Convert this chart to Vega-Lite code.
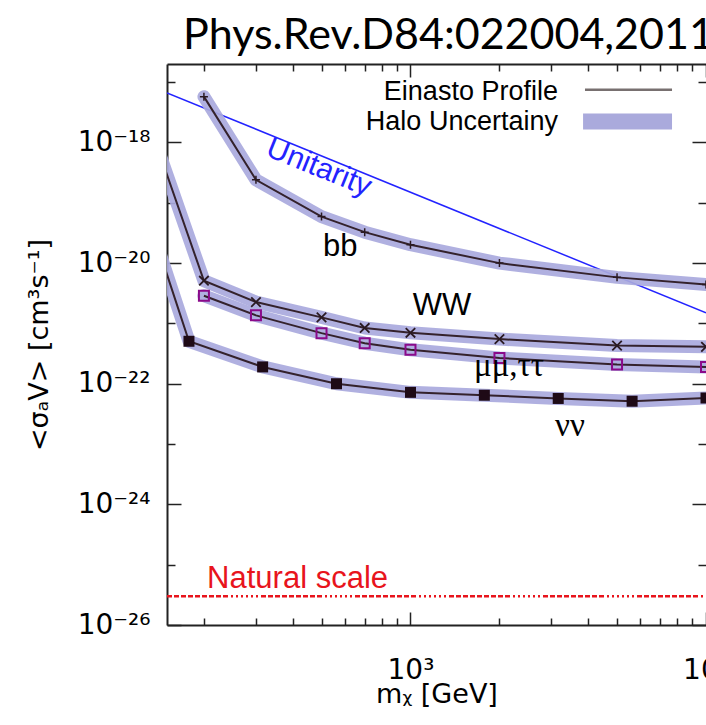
{
  "$schema": "https://vega.github.io/schema/vega-lite/v6.json",
  "width": 539,
  "height": 561,
  "autosize": "none",
  "padding": {"left": 167, "top": 64, "right": 0, "bottom": 100},
  "background": "white",
  "config": {
    "view": {"stroke": null},
    "axis": {
      "grid": false,
      "labelFont": "DejaVu Sans",
      "labelFontSize": 28,
      "labelColor": "black",
      "labelOverlap": false,
      "labelFlush": false,
      "tickColor": "#222222",
      "tickWidth": 1.5,
      "domainColor": "#222222",
      "domainWidth": 2,
      "titleFont": "DejaVu Sans",
      "titleFontSize": 27,
      "titleFontWeight": "normal",
      "titleColor": "black"
    }
  },
  "title": {
    "text": "Phys.Rev.D84:022004,2011",
    "anchor": "start",
    "frame": "group",
    "dx": 16,
    "offset": 5,
    "font": "Lato",
    "fontSize": 43,
    "fontWeight": "normal",
    "color": "black"
  },
  "datasets": {
    "series": [
      {"ch": "bb", "m": 200, "sv": 5.75e-18},
      {"ch": "bb", "m": 300, "sv": 2.4e-19},
      {"ch": "bb", "m": 500, "sv": 5.9e-20},
      {"ch": "bb", "m": 700, "sv": 3.26e-20},
      {"ch": "bb", "m": 1000, "sv": 2.02e-20},
      {"ch": "bb", "m": 2000, "sv": 1.0e-20},
      {"ch": "bb", "m": 5000, "sv": 5.8e-21},
      {"ch": "bb", "m": 10000, "sv": 4.4e-21},
      {"ch": "WW", "m": 100, "sv": 8.7e-17},
      {"ch": "WW", "m": 200, "sv": 5.1e-21},
      {"ch": "WW", "m": 300, "sv": 2.26e-21},
      {"ch": "WW", "m": 500, "sv": 1.26e-21},
      {"ch": "WW", "m": 700, "sv": 8.4e-22},
      {"ch": "WW", "m": 1000, "sv": 7.0e-22},
      {"ch": "WW", "m": 2000, "sv": 5.5e-22},
      {"ch": "WW", "m": 5000, "sv": 4.3e-22},
      {"ch": "WW", "m": 10000, "sv": 4.1e-22},
      {"ch": "mumu", "m": 200, "sv": 2.88e-21},
      {"ch": "mumu", "m": 300, "sv": 1.36e-21},
      {"ch": "mumu", "m": 500, "sv": 6.9e-22},
      {"ch": "mumu", "m": 700, "sv": 4.7e-22},
      {"ch": "mumu", "m": 1000, "sv": 3.65e-22},
      {"ch": "mumu", "m": 2000, "sv": 2.67e-22},
      {"ch": "mumu", "m": 5000, "sv": 2.08e-22},
      {"ch": "mumu", "m": 10000, "sv": 1.9e-22},
      {"ch": "nunu", "m": 100, "sv": 2.7e-18},
      {"ch": "nunu", "m": 178, "sv": 5.06e-22},
      {"ch": "nunu", "m": 316, "sv": 1.9e-22},
      {"ch": "nunu", "m": 562, "sv": 1.0e-22},
      {"ch": "nunu", "m": 1000, "sv": 7.2e-23},
      {"ch": "nunu", "m": 1778, "sv": 6.45e-23},
      {"ch": "nunu", "m": 3162, "sv": 5.7e-23},
      {"ch": "nunu", "m": 5623, "sv": 5.13e-23},
      {"ch": "nunu", "m": 10000, "sv": 5.8e-23}
    ],
    "unitarity": [
      {"m": 150, "sv": 6.65e-18},
      {"m": 10000, "sv": 1.5e-21}
    ],
    "natural": [
      {"m": 150, "sv": 3e-26},
      {"m": 10000, "sv": 3e-26}
    ],
    "sansLabels": [
      {"label": "bb", "m": 578, "sv": 1.29e-20},
      {"label": "WW", "m": 1278, "sv": 1.36e-21}
    ],
    "serifLabels": [
      {"label": "μμ,ττ", "m": 2155, "sv": 1.32e-22},
      {"label": "νν", "m": 3466, "sv": 1.35e-23}
    ],
    "unitarityLabel": [
      {"label": "Unitarity", "m": 490, "sv": 3.84e-19}
    ],
    "naturalLabel": [
      {"label": "Natural scale", "m": 205, "sv": 4.11e-26}
    ],
    "legendText": [
      {"label": "Einasto Profile", "m": 3155, "sv": 5.13e-18},
      {"label": "Halo Uncertainy", "m": 3155, "sv": 1.64e-18}
    ],
    "legendLine": [
      {"m": 3895, "sv": 7.5e-18},
      {"m": 7674, "sv": 7.5e-18}
    ],
    "legendBand": [
      {"m": 3837, "sv": 2.22e-18},
      {"m": 7674, "sv": 2.22e-18}
    ]
  },
  "encoding": {
    "x": {"field": "m", "type": "quantitative", "scale": {"type": "log", "domain": [150, 10000], "nice": false}, "axis": null},
    "y": {"field": "sv", "type": "quantitative", "scale": {"type": "log", "domain": [1e-26, 2e-17], "nice": false}, "axis": null}
  },
  "layer": [
    {
      "data": {"name": "unitarity"},
      "mark": {"type": "line", "stroke": "#2323ff", "strokeWidth": 1.5, "clip": true},
      "encoding": {}
    },
    {
      "data": {"name": "natural"},
      "mark": {"type": "line", "stroke": "#e8141c", "strokeWidth": 2.5, "clip": true,
        "strokeDash": [5, 2, 5, 2, 5, 2, 5, 2, 5, 2, 5, 2, 5, 2, 5, 2, 5, 3, 2, 3, 2, 3, 2, 3, 2, 3, 2, 3, 2, 3]},
      "encoding": {}
    },
    {
      "data": {"name": "series"},
      "mark": {"type": "line", "stroke": "#a9a9dd", "strokeWidth": 13, "opacity": 0.92, "strokeCap": "round", "strokeJoin": "round", "clip": true},
      "encoding": {"detail": {"field": "ch"}}
    },
    {
      "data": {"name": "series"},
      "mark": {"type": "line", "stroke": "#34222c", "strokeWidth": 2, "clip": true},
      "encoding": {"detail": {"field": "ch"}}
    },
    {
      "data": {"name": "series"},
      "transform": [{"filter": "datum.ch == 'bb'"}],
      "mark": {"type": "point", "shape": "M-1,0L1,0M0,-1L0,1", "size": 64, "filled": false, "stroke": "#2a1a22", "strokeWidth": 1.5, "opacity": 1, "clip": true}
    },
    {
      "data": {"name": "series"},
      "transform": [{"filter": "datum.ch == 'WW'"}],
      "mark": {"type": "point", "shape": "M-1,-1L1,1M-1,1L1,-1", "size": 90, "filled": false, "stroke": "#2a1a22", "strokeWidth": 1.8, "opacity": 1, "clip": true}
    },
    {
      "data": {"name": "series"},
      "transform": [{"filter": "datum.ch == 'mumu'"}],
      "mark": {"type": "point", "shape": "square", "size": 100, "filled": false, "stroke": "#8a0a8a", "strokeWidth": 2, "opacity": 1, "clip": true}
    },
    {
      "data": {"name": "series"},
      "transform": [{"filter": "datum.ch == 'nunu'"}],
      "mark": {"type": "point", "shape": "square", "size": 121, "filled": true, "color": "#1e0a16", "opacity": 1, "clip": true}
    },
    {
      "data": {"name": "sansLabels"},
      "mark": {"type": "text", "font": "Liberation Sans", "fontSize": 31, "color": "black", "align": "center", "baseline": "alphabetic"},
      "encoding": {"text": {"field": "label"}}
    },
    {
      "data": {"name": "serifLabels"},
      "mark": {"type": "text", "font": "Liberation Serif", "fontSize": 33, "color": "black", "align": "center", "baseline": "alphabetic"},
      "encoding": {"text": {"field": "label"}}
    },
    {
      "data": {"name": "unitarityLabel"},
      "mark": {"type": "text", "font": "Liberation Sans", "fontSize": 30, "color": "#2323ff", "align": "center", "baseline": "middle", "angle": 22},
      "encoding": {"text": {"field": "label"}}
    },
    {
      "data": {"name": "naturalLabel"},
      "mark": {"type": "text", "font": "Liberation Sans", "fontSize": 31, "color": "#e8141c", "align": "left", "baseline": "alphabetic"},
      "encoding": {"text": {"field": "label"}}
    },
    {
      "data": {"name": "legendText"},
      "mark": {"type": "text", "font": "Liberation Sans", "fontSize": 27, "color": "black", "align": "right", "baseline": "alphabetic"},
      "encoding": {"text": {"field": "label"}}
    },
    {
      "data": {"name": "legendLine"},
      "mark": {"type": "line", "stroke": "#787070", "strokeWidth": 2.5},
      "encoding": {}
    },
    {
      "data": {"name": "legendBand"},
      "mark": {"type": "line", "stroke": "#aaaadc", "strokeWidth": 16, "strokeCap": "butt"},
      "encoding": {}
    },
    {
      "data": {"name": "unitarity"},
      "mark": {"type": "point", "opacity": 0},
      "encoding": {
        "x": {"field": "m", "type": "quantitative", "scale": {"type": "log", "domain": [150, 10000], "nice": false},
          "axis": {"orient": "bottom", "values": [1000, 10000], "ticks": false, "domain": true,
            "labelExpr": "datum.value < 5000 ? '10³' : '10⁴'", "labelBaseline": "alphabetic", "labelPadding": 53,
            "title": "mᵪ [GeV]", "titleBaseline": "alphabetic", "titlePadding": 18}},
        "y": {"field": "sv", "type": "quantitative", "scale": {"type": "log", "domain": [1e-26, 2e-17], "nice": false},
          "axis": {"orient": "left", "values": [1e-26, 1e-24, 1e-22, 1e-20, 1e-18], "ticks": false, "domain": true,
            "labelExpr": "datum.value < 1e-25 ? '10⁻²⁶' : datum.value < 1e-23 ? '10⁻²⁴' : datum.value < 1e-21 ? '10⁻²²' : datum.value < 1e-19 ? '10⁻²⁰' : '10⁻¹⁸'",
            "labelBaseline": "middle", "labelPadding": 17,
            "title": "<σₐV> [cm³s⁻¹]", "titlePadding": 24}}
      }
    },
    {
      "data": {"name": "unitarity"},
      "mark": {"type": "point", "opacity": 0},
      "encoding": {
        "x": {"field": "m", "type": "quantitative", "scale": {"type": "log", "domain": [150, 10000], "nice": false},
          "axis": {"orient": "bottom", "values": [1000, 10000], "labels": false, "domain": false, "ticks": true, "tickSize": -13, "title": null}},
        "y": {"field": "sv", "type": "quantitative", "scale": {"type": "log", "domain": [1e-26, 2e-17], "nice": false},
          "axis": {"orient": "left", "values": [1e-26, 1e-24, 1e-22, 1e-20, 1e-18], "labels": false, "domain": false, "ticks": true, "tickSize": -14, "title": null}}
      }
    },
    {
      "data": {"name": "unitarity"},
      "mark": {"type": "point", "opacity": 0},
      "encoding": {
        "x": {"field": "m", "type": "quantitative", "scale": {"type": "log", "domain": [150, 10000], "nice": false},
          "axis": {"orient": "bottom", "values": [200, 300, 400, 500, 600, 700, 800, 900, 2000, 3000, 4000, 5000, 6000, 7000, 8000, 9000], "labels": false, "domain": false, "ticks": true, "tickSize": -7, "title": null}},
        "y": {"field": "sv", "type": "quantitative", "scale": {"type": "log", "domain": [1e-26, 2e-17], "nice": false},
          "axis": {"orient": "left", "values": [1e-25, 1e-23, 1e-21, 1e-19, 1e-17], "labels": false, "domain": false, "ticks": true, "tickSize": -8, "title": null}}
      }
    },
    {
      "data": {"name": "unitarity"},
      "mark": {"type": "point", "opacity": 0},
      "encoding": {
        "x": {"field": "m", "type": "quantitative", "scale": {"type": "log", "domain": [150, 10000], "nice": false},
          "axis": {"orient": "top", "values": [1000, 10000], "labels": false, "domain": true, "ticks": true, "tickSize": -13, "title": null}},
        "y": {"field": "sv", "type": "quantitative", "scale": {"type": "log", "domain": [1e-26, 2e-17], "nice": false},
          "axis": {"orient": "right", "values": [1e-26, 1e-24, 1e-22, 1e-20, 1e-18], "labels": false, "domain": false, "ticks": true, "tickSize": -14, "title": null}}
      }
    },
    {
      "data": {"name": "unitarity"},
      "mark": {"type": "point", "opacity": 0},
      "encoding": {
        "x": {"field": "m", "type": "quantitative", "scale": {"type": "log", "domain": [150, 10000], "nice": false},
          "axis": {"orient": "top", "values": [200, 300, 400, 500, 600, 700, 800, 900, 2000, 3000, 4000, 5000, 6000, 7000, 8000, 9000], "labels": false, "domain": false, "ticks": true, "tickSize": -7, "title": null}},
        "y": {"field": "sv", "type": "quantitative", "scale": {"type": "log", "domain": [1e-26, 2e-17], "nice": false},
          "axis": {"orient": "right", "values": [1e-25, 1e-23, 1e-21, 1e-19, 1e-17], "labels": false, "domain": false, "ticks": true, "tickSize": -8, "title": null}}
      }
    }
  ],
  "resolve": {"axis": {"x": "independent", "y": "independent"}}
}
